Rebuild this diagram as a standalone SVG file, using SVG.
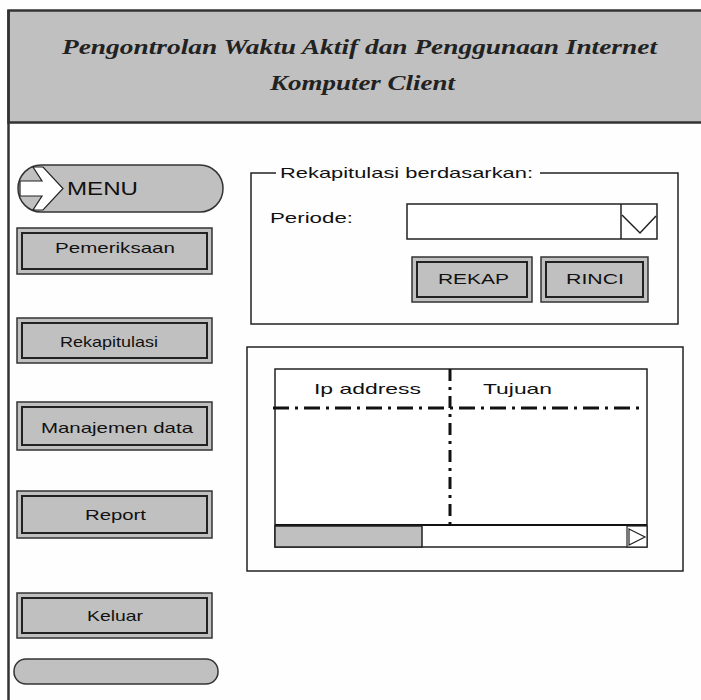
<svg xmlns="http://www.w3.org/2000/svg" width="701" height="700" viewBox="0 0 701 700">
<style>
.t{font-family:"Liberation Sans",Arial,sans-serif;fill:#111;}
.btn{fill:#c0c0c0;stroke:#333;stroke-width:1.5;}
.inner{fill:none;stroke:#222;stroke-width:2;}
.ln{fill:none;stroke:#222;stroke-width:1.5;}
.dd{fill:none;stroke:#111;stroke-width:3;stroke-dasharray:16 6 3 6;}
.title{font-family:"Liberation Serif","DejaVu Serif",serif;font-style:italic;font-weight:bold;fill:#222;font-size:21px;}
</style>
<rect x="0" y="0" width="701" height="700" fill="#fefefe"/>
<g id="header">
<rect x="8.5" y="10.5" width="700" height="112" fill="#c0c0c0" stroke="#333" stroke-width="2.5"/>
<text class="title" x="62" y="54" textLength="595" lengthAdjust="spacingAndGlyphs">Pengontrolan Waktu Aktif dan Penggunaan Internet</text>
<text class="title" x="270" y="90" textLength="185" lengthAdjust="spacingAndGlyphs">Komputer Client</text>
</g>
<line x1="8.5" y1="10" x2="8.5" y2="700" stroke="#333" stroke-width="2.5"/>
<g id="menu">
<path d="M41,165 H200 A23,23.5 0 0 1 200,212 H41 A23,23.5 0 0 1 41,165 Z" class="btn"/>
<polygon points="20,181 42,181 33,167 43,167 63,188.5 43,210 33,210 42,196 20,196" fill="#fff" stroke="#222" stroke-width="1.2"/>
<text class="t" x="67" y="195" font-size="19" textLength="71" lengthAdjust="spacingAndGlyphs">MENU</text>
</g>
<g id="btn-pemeriksaan">
<rect class="btn" x="17" y="228" width="195" height="46"/>
<rect class="inner" x="22" y="233" width="185" height="36"/>
<text class="t" x="55" y="253" font-size="15" textLength="120" lengthAdjust="spacingAndGlyphs">Pemeriksaan</text>
</g>
<g id="btn-rekapitulasi">
<rect class="btn" x="17" y="318" width="195" height="45"/>
<rect class="inner" x="22" y="323" width="185" height="35"/>
<text class="t" x="60" y="347" font-size="15" textLength="98" lengthAdjust="spacingAndGlyphs">Rekapitulasi</text>
</g>
<g id="btn-manajemen">
<rect class="btn" x="17" y="402" width="195" height="48"/>
<rect class="inner" x="22" y="407" width="185" height="38"/>
<text class="t" x="41" y="433" font-size="15" textLength="152" lengthAdjust="spacingAndGlyphs">Manajemen data</text>
</g>
<g id="btn-report">
<rect class="btn" x="17" y="491" width="195" height="47"/>
<rect class="inner" x="22" y="496" width="185" height="37"/>
<text class="t" x="85" y="520" font-size="15" textLength="61" lengthAdjust="spacingAndGlyphs">Report</text>
</g>
<g id="btn-keluar">
<rect class="btn" x="17" y="593" width="195" height="45"/>
<rect class="inner" x="22" y="598" width="185" height="35"/>
<text class="t" x="87" y="621" font-size="15" textLength="56" lengthAdjust="spacingAndGlyphs">Keluar</text>
</g>
<g id="bottom-pill">
<rect class="btn" x="14" y="659" width="204" height="25" rx="12" ry="12"/>
</g>
<g id="group-rekap">
<path class="ln" d="M276,173 H251 V324 H678 V173 H540"/>
<text class="t" x="280" y="178" font-size="15" textLength="253" lengthAdjust="spacingAndGlyphs">Rekapitulasi berdasarkan:</text>
<text class="t" x="270" y="223" font-size="15" textLength="83" lengthAdjust="spacingAndGlyphs">Periode:</text>
</g>
<g id="combo-periode">
<rect x="407" y="204" width="250" height="35" fill="#fff" stroke="#222" stroke-width="1.5"/>
<line x1="621" y1="204" x2="621" y2="239" stroke="#222" stroke-width="1.5"/>
<polyline points="622,215 640,233 656,216" class="ln"/>
</g>
<g id="btn-rekap">
<rect class="btn" x="412" y="257" width="120" height="45"/>
<rect class="inner" x="417" y="262" width="110" height="35"/>
<text class="t" x="438" y="284" font-size="15" textLength="71" lengthAdjust="spacingAndGlyphs">REKAP</text>
</g>
<g id="btn-rinci">
<rect class="btn" x="541" y="257" width="107" height="45"/>
<rect class="inner" x="546" y="262" width="97" height="35"/>
<text class="t" x="566" y="284" font-size="15" textLength="58" lengthAdjust="spacingAndGlyphs">RINCI</text>
</g>
<g id="panel-tabel">
<rect x="247" y="347" width="436" height="224" class="ln"/>
</g>
<g id="tabel">
<rect x="275" y="369" width="372" height="178" fill="#fff" stroke="#222" stroke-width="1.5"/>
<text class="t" x="314" y="394" font-size="15" textLength="107" lengthAdjust="spacingAndGlyphs">Ip address</text>
<text class="t" x="483" y="394" font-size="15" textLength="69" lengthAdjust="spacingAndGlyphs">Tujuan</text>
<line class="dd" x1="273" y1="408" x2="645" y2="408"/>
<line class="dd" x1="450" y1="369" x2="450" y2="530" style="stroke-dasharray:12 6 3 6"/>
<line x1="275" y1="525" x2="647" y2="525" stroke="#111" stroke-width="2"/>
<rect x="275" y="526" width="147" height="21" fill="#c0c0c0" stroke="#222" stroke-width="1.5"/>
<rect x="627" y="526" width="20" height="21" fill="#fff" stroke="#222" stroke-width="1.2"/>
<polygon points="629,529 645,537 629,545" fill="none" stroke="#222" stroke-width="1.2"/>
</g>
</svg>
